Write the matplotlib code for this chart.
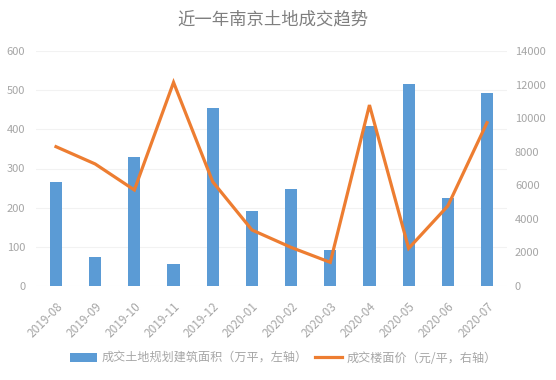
import numpy as np
import matplotlib
matplotlib.use('Agg')
import matplotlib.pyplot as plt
from matplotlib.patches import Patch
from matplotlib.lines import Line2D

plt.rcParams['font.family'] = ['Noto Sans CJK SC', 'DejaVu Sans']

months = ['2019-08', '2019-09', '2019-10', '2019-11', '2019-12', '2020-01',
          '2020-02', '2020-03', '2020-04', '2020-05', '2020-06', '2020-07']
# 成交土地规划建筑面积（万平）
area = [266, 75, 330, 56, 454, 191, 247, 91, 409, 515, 224, 494]
# 成交楼面价（元/平）
price = [8300, 7270, 5720, 12130, 6210, 3340, 2300, 1410, 10780, 2240, 4770, 9730]

bar_color = '#5B9BD5'
line_color = '#ED7D31'
text_color = '#A6A6A6'

fig = plt.figure(figsize=(5.56, 3.80), dpi=100)
ax = fig.add_axes([36.4 / 556, 1 - 286 / 380, (506.6 - 36.4) / 556, (286 - 51) / 380])
ax2 = ax.twinx()

x = np.arange(len(months))
ax.bar(x, area, width=0.31, color=bar_color, zorder=2)
ax2.plot(x, price, color=line_color, lw=2.3, solid_joinstyle='miter', zorder=3)

ax.set_xlim(-0.5, len(months) - 0.5)
ax.set_ylim(0, 600)
ax.set_yticks(range(0, 601, 100))
ax2.set_ylim(0, 14000)
ax2.set_yticks(range(0, 14001, 2000))

ax.grid(axis='y', color='#F2F2F2', lw=0.8, zorder=0)
for a in (ax, ax2):
    for s in a.spines.values():
        s.set_visible(False)
    a.tick_params(length=0, labelsize=8, labelcolor=text_color)
ax.tick_params(axis='y', pad=8)
ax2.tick_params(axis='y', pad=6)

ax.set_xticks(x)
ax.set_xticklabels(months, rotation=45, ha='right', rotation_mode='anchor')
ax.tick_params(axis='x', pad=10, labelsize=8.5)

fig.text(0.49, 1 - 19 / 380, '近一年南京土地成交趋势', ha='center', va='center',
         fontsize=12.5, color='#7F7F7F')

handles = [Patch(facecolor=bar_color), Line2D([0], [0], color=line_color, lw=2.3)]
labels = ['成交土地规划建筑面积（万平，左轴）', '成交楼面价（元/平，右轴）']
fig.legend(handles, labels, loc='center', bbox_to_anchor=(0.51, 1 - 358 / 380), ncol=2,
           frameon=False, fontsize=8.7, labelcolor=text_color, handlelength=2.2,
           handletextpad=0.4, columnspacing=0.6)

fig.savefig('out.png', dpi=100, facecolor='white')
